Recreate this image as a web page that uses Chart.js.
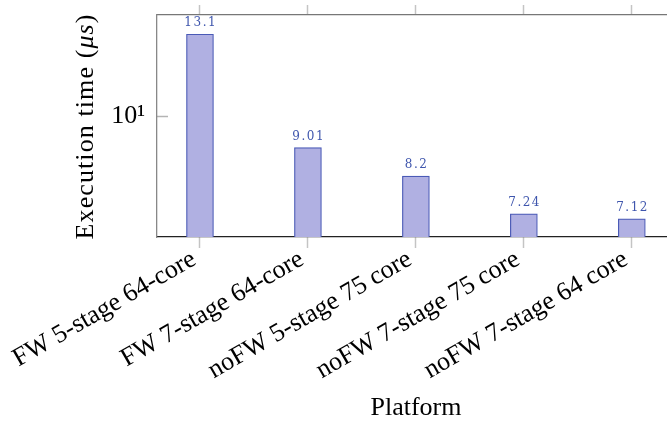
<!DOCTYPE html>
<html>
<head>
<meta charset="utf-8">
<script src="https://cdn.jsdelivr.net/npm/chart.js@4.4.1/dist/chart.umd.min.js"></script>
<style>
  html, body { margin: 0; padding: 0; background: #fff; overflow: hidden; width: 667px; height: 422px; }
  #wrap { width: 680px; height: 422px; }
</style>
</head>
<body>
<div id="wrap"><canvas id="c" width="680" height="422"></canvas></div>
<script>
// Platforms and their measured execution times (microseconds)
const platforms = ['FW 5-stage 64-core', 'FW 7-stage 64-core', 'noFW 5-stage 75 core', 'noFW 7-stage 75 core', 'noFW 7-stage 64 core'];
const execTimes = [13.1, 9.01, 8.2, 7.24, 7.12];
const valueLabels = ['13.1', '9.01', '8.2', '7.24', '7.12'];

// Log axis: labelled tick values and their text
const yTickValues = [10];
const yTickLabels = ['10\u00B9'];

const SERIF = "'Liberation Serif', 'Times New Roman', serif";
const FILL = '#b0b0e2';
const EDGE = '#4a5ab6';
const LABEL_BLUE = '#3f56ad';

const categoryTicks = s => { s.ticks = platforms.map((_, i) => ({ value: i })); };
const noPadding = s => { s.paddingTop = 0; s.paddingBottom = 0; s.paddingLeft = 0; s.paddingRight = 0; };

// Bar value labels above each bar
const barValueLabels = {
  id: 'barValueLabels',
  afterDatasetsDraw(chart) {
    const ctx = chart.ctx;
    const meta = chart.getDatasetMeta(0);
    ctx.save();
    ctx.font = "12px 'DejaVu Serif', serif";
    ctx.fillStyle = LABEL_BLUE;
    ctx.textAlign = 'left';
    ctx.textBaseline = 'alphabetic';
    const sp = 1.5;
    if ('letterSpacing' in ctx) ctx.letterSpacing = sp + 'px';
    meta.data.forEach((bar, i) => {
      const txt = valueLabels[i];
      const w = ctx.measureText(txt).width - sp;
      ctx.fillText(txt, bar.x - w / 2, bar.y - 8);
    });
    ctx.restore();
  }
};

// Rotated y-axis title with an italic unit
const yTitleParts = [
  { text: 'Execution time (', italic: false },
  { text: '\u03BCs', italic: true },
  { text: ')', italic: false }
];
const yAxisTitle = {
  id: 'yAxisTitle',
  afterDraw(chart) {
    const ctx = chart.ctx;
    const area = chart.chartArea;
    const sp = 1.1;
    ctx.save();
    ctx.translate(86, (area.top + area.bottom) / 2 + 1);
    ctx.rotate(-Math.PI / 2);
    ctx.fillStyle = '#000';
    ctx.textBaseline = 'middle';
    ctx.textAlign = 'left';
    if ('letterSpacing' in ctx) ctx.letterSpacing = sp + 'px';
    const fontFor = p => (p.italic ? 'italic ' : '') + '26px ' + SERIF;
    let total = 0;
    yTitleParts.forEach(p => { ctx.font = fontFor(p); total += ctx.measureText(p.text).width; });
    total -= sp;
    let x = -total / 2;
    yTitleParts.forEach(p => {
      ctx.font = fontFor(p);
      ctx.fillText(p.text, x, 0);
      x += ctx.measureText(p.text).width;
    });
    ctx.restore();
  }
};

new Chart(document.getElementById('c'), {
  type: 'bar',
  data: {
    datasets: [{
      data: execTimes.map((v, i) => ({ x: i, y: v })),
      backgroundColor: FILL,
      borderColor: EDGE,
      borderWidth: 1.2,
      barThickness: 27
    }]
  },
  options: {
    responsive: false,
    animation: false,
    events: [],
    layout: { padding: { top: 15, right: 5, left: 0, bottom: 0 } },
    plugins: { legend: { display: false }, tooltip: { enabled: false } },
    scales: {
      x: {
        type: 'linear',
        position: 'bottom',
        bounds: 'data',
        offset: false,
        min: -0.398,
        max: 4.4,
        afterBuildTicks: categoryTicks,
        ticks: {
          autoSkip: false,
          minRotation: 30,
          maxRotation: 30,
          padding: -4,
          labelOffset: -6,
          color: '#000',
          font: { family: SERIF, size: 26 },
          callback: v => platforms[v]
        },
        grid: { drawOnChartArea: false, drawTicks: true, tickLength: 11, tickColor: '#c4c4c4', tickWidth: 1.5, offset: false },
        border: { color: '#222', width: 1.3 },
        title: { display: true, text: 'Platform', color: '#000', font: { family: SERIF, size: 26 }, padding: { top: 0, bottom: -2 } },
        afterFit: s => { noPadding(s); s.height = 185; }
      },
      xTop: {
        type: 'linear',
        position: 'top',
        bounds: 'data',
        offset: false,
        min: -0.398,
        max: 4.4,
        afterBuildTicks: categoryTicks,
        ticks: { display: false },
        grid: { drawOnChartArea: false, drawTicks: true, tickLength: 10, tickColor: '#c4c4c4', tickWidth: 1.5, offset: false },
        border: { color: '#777', width: 1.3 },
        afterFit: s => { noPadding(s); s.height = 0; }
      },
      y: {
        type: 'logarithmic',
        position: 'left',
        min: 6.706,
        max: 13.96,
        afterBuildTicks: s => { s.ticks = yTickValues.map(v => ({ value: v })); },
        ticks: {
          padding: 23,
          color: '#000',
          font: { family: SERIF, size: 26 },
          callback: v => { const k = yTickValues.indexOf(v); return k >= 0 ? yTickLabels[k] : ''; }
        },
        grid: { drawOnChartArea: false, drawTicks: true, tickLength: -11, tickColor: '#b4b4b4', tickWidth: 1.5 },
        border: { color: '#888', width: 1.3 },
        title: { display: false },
        afterFit: s => { noPadding(s); s.width = 157; }
      }
    }
  },
  plugins: [barValueLabels, yAxisTitle]
});
</script>
</body>
</html>
